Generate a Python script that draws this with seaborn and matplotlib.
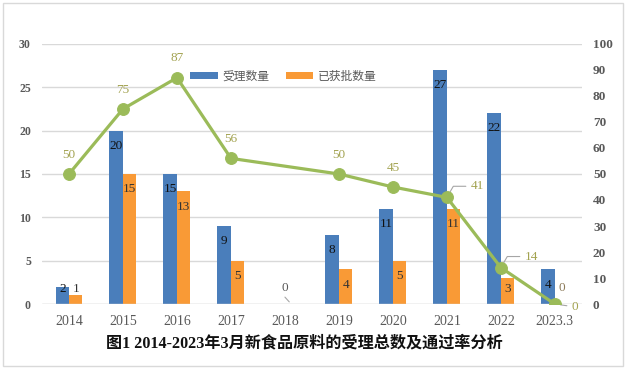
import matplotlib
matplotlib.use("Agg")
import matplotlib.pyplot as plt
import seaborn as sns
import pandas as pd
import numpy as np

years = ["2014", "2015", "2016", "2017", "2018", "2019", "2020", "2021", "2022", "2023.3"]
accepted = [2, 20, 15, 9, 0, 8, 11, 27, 22, 4]
approved = [1, 15, 13, 5, 0, 4, 5, 11, 3, 0]
pass_rate = [50, 75, 87, 56, None, 50, 45, 41, 14, 0]
series_names = ["受理数量", "已获批数量"]
title = "图1 2014-2023年3月新食品原料的受理总数及通过率分析"

BLUE = "#4A7EBB"
ORANGE = "#F99A36"
GREEN = "#9BBB59"
LBL_GREEN = "#A3A351"
GRID = "#D9D9D9"
TICK = "#595959"

sns.set_theme(style="white")
plt.rcParams["font.family"] = ["Liberation Serif", "Noto Sans CJK SC", "DejaVu Sans"]

df = pd.DataFrame({
    "year": years * 2,
    "value": accepted + approved,
    "series": [series_names[0]] * len(years) + [series_names[1]] * len(years),
})

fig = plt.figure(figsize=(6.27, 3.69), dpi=100)
ax = fig.add_axes([0.067, 0.176, 0.861, 0.705])

sns.barplot(data=df, x="year", y="value", hue="series", order=years,
            hue_order=series_names, palette=[BLUE, ORANGE], width=0.5,
            gap=0, ax=ax, saturation=1, legend=False, linewidth=0,
            edgecolor="none")

ax.set_xlim(-0.5, len(years) - 0.5)
ax.set_ylim(0, 30)
ax.set_yticks(range(0, 31, 5))
ax.yaxis.grid(True, color=GRID, linewidth=1)
ax.set_axisbelow(True)
for s in ax.spines.values():
    s.set_visible(False)
ax.axhline(0, color=GRID, linewidth=1, zorder=1)
ax.set_xlabel("")
ax.set_ylabel("")
ax.tick_params(axis="both", length=0)
ax.tick_params(axis="x", pad=8, labelsize=10, labelcolor=TICK)
ax.tick_params(axis="y", pad=8, labelsize=8.5, labelcolor=TICK)
for t in ax.get_yticklabels():
    t.set_fontweight("bold")

# bar labels
blue_bars = ax.containers[0]
orange_bars = ax.containers[1]
for bars, vals, col in ((blue_bars, accepted, "#111111"), (orange_bars, approved, "#333333")):
    for b, v in zip(bars, vals):
        if v == 0:
            continue
        x = b.get_x() + b.get_width() / 2
        ax.text(x, max(v - 1.75, 1.75), str(v), ha="center", va="center",
                fontsize=9.5, color=col)
# zero labels
ax.text(4, 1.85, "0", ha="center", va="center", fontsize=9.5, color="#595959")
ax.plot([4.0, 4.08], [0.8, 0.25], color="#A6A6A6", linewidth=0.8)
b9 = orange_bars[9]
ax.text(b9.get_x() + b9.get_width() / 2, 1.85, "0", ha="center", va="center",
        fontsize=9.5, color="#8C7B5A")

# legend
from matplotlib.patches import Patch
handles = [Patch(facecolor=BLUE, edgecolor="none"), Patch(facecolor=ORANGE, edgecolor="none")]
fig.legend(handles, series_names, loc="center", bbox_to_anchor=(0.452, 0.794),
           ncol=2, frameon=False, handlelength=2.3, handleheight=0.6,
           columnspacing=1.4, handletextpad=0.4,
           prop={"family": ["Noto Sans CJK SC"], "size": 8.5})
for t in fig.legends[0].get_texts():
    t.set_color(TICK)

# right axis: pass rate
ax2 = ax.twinx()
ax2.set_ylim(0, 100)
ax2.set_yticks(range(0, 101, 10))
for s in ax2.spines.values():
    s.set_visible(False)
ax2.tick_params(axis="y", length=0, pad=8, labelsize=9.5, labelcolor=TICK)
for t in ax2.get_yticklabels():
    t.set_fontweight("bold")
ax2.grid(False)

xs = [i for i, v in enumerate(pass_rate) if v is not None]
ys = [v for v in pass_rate if v is not None]
line_df = pd.DataFrame({"x": xs, "rate": ys})
sns.lineplot(data=line_df, x="x", y="rate", ax=ax2, color=GREEN, linewidth=2.3,
             marker="o", markersize=8.5, markeredgecolor=GREEN, zorder=5)
ax2.set_xlabel("")
ax2.set_ylabel("")
ax2.set_xlim(-0.5, len(years) - 0.5)

for x, y in zip(xs, ys):
    if y in (41, 14):
        ax2.annotate(str(y), (x, y), xytext=(17, 8), textcoords="offset points",
                     ha="left", va="center", fontsize=9.5, color=LBL_GREEN,
                     arrowprops=dict(arrowstyle="-", color="#A6A6A6", lw=0.8,
                                     connectionstyle="angle,angleA=0,angleB=60,rad=0",
                                     shrinkA=1, shrinkB=4))
    elif y == 0:
        ax2.annotate(str(y), (x, y), xytext=(12, -2), textcoords="offset points",
                     ha="left", va="center", fontsize=9.5, color=LBL_GREEN,
                     arrowprops=dict(arrowstyle="-", color="#A6A6A6", lw=0.8,
                                     shrinkA=1, shrinkB=4))
    else:
        ax2.annotate(str(y), (x, y), xytext=(0, 14), textcoords="offset points",
                     ha="center", va="center", fontsize=9.5, color=LBL_GREEN)

fig.text(0.486, 0.07, title, ha="center", va="center", fontsize=11.6,
         fontweight="bold", color="#111111",
         family=["Liberation Serif", "Noto Sans CJK SC"])

# outer border
fig.patches.append(plt.Rectangle((0.004, 0.008), 0.99, 0.985, transform=fig.transFigure,
                                 fill=False, edgecolor="#D9D9D9", linewidth=1))

fig.savefig("out.png", dpi=100)
